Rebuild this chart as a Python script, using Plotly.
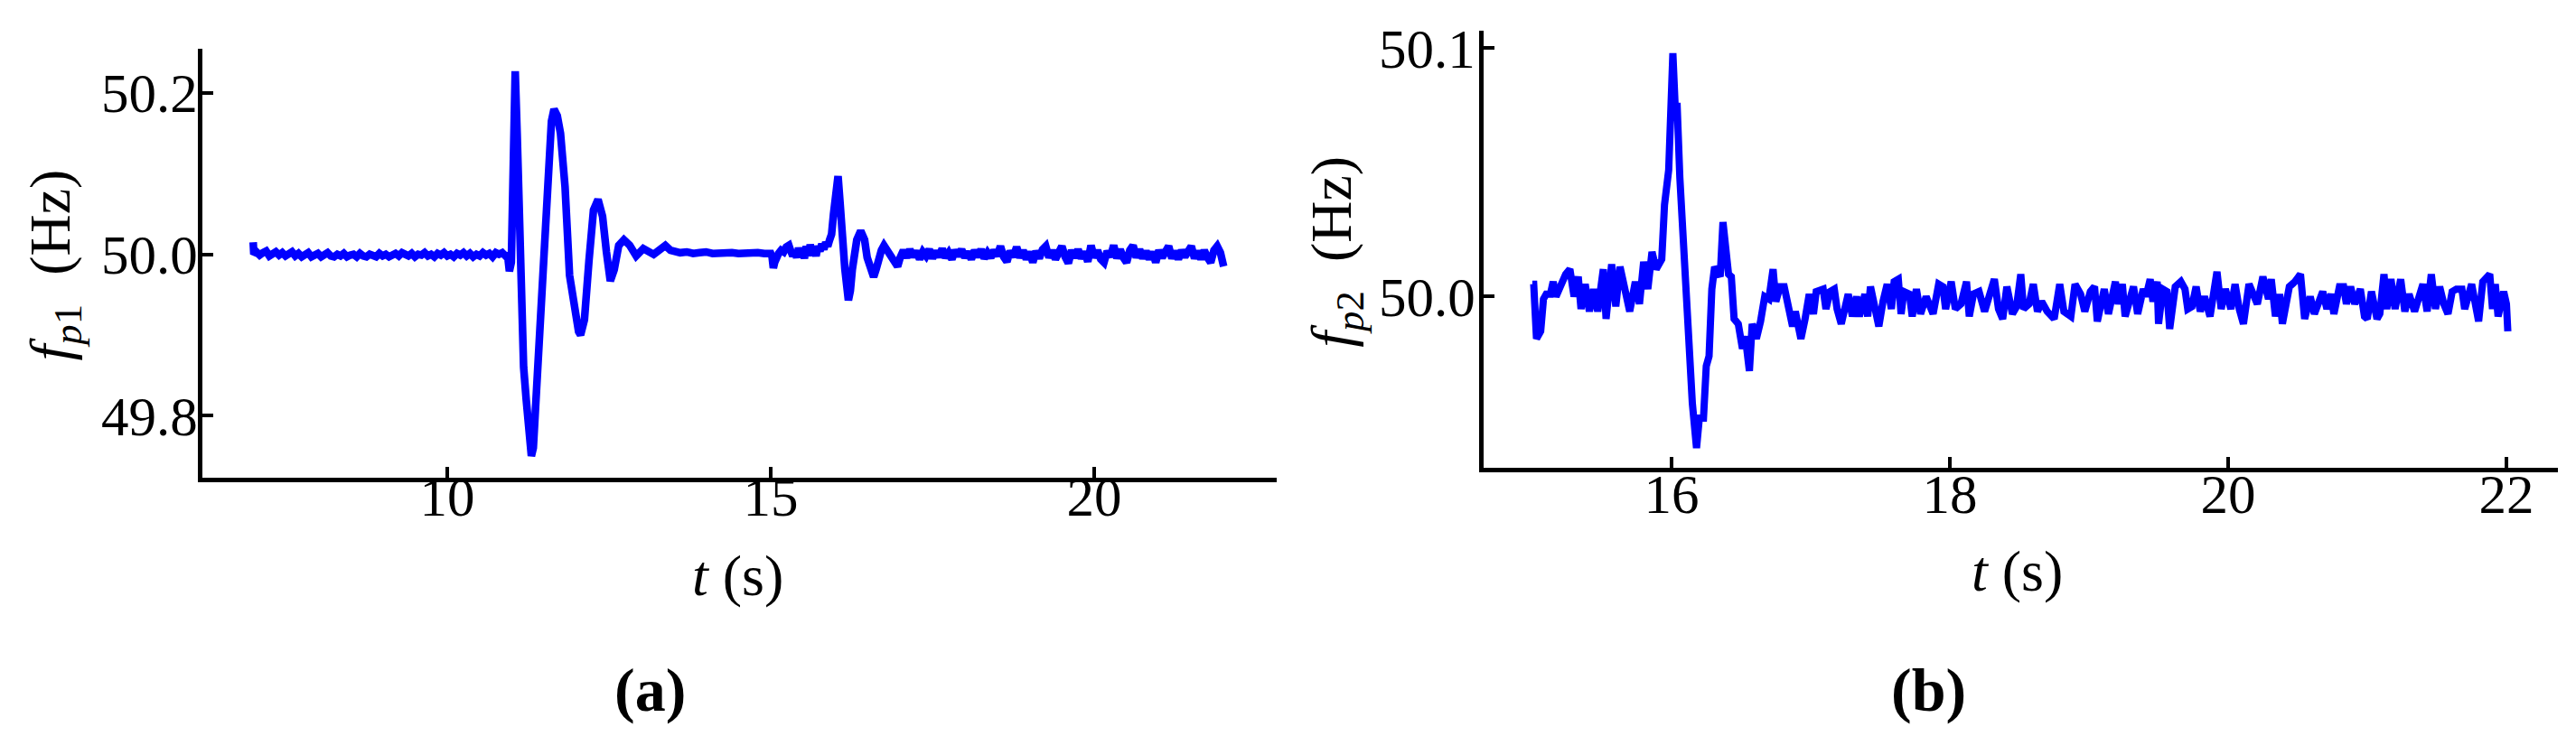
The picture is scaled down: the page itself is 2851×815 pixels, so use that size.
import plotly.graph_objects as go

# ---------------- data ----------------
# Left panel (a): f_p1 in Hz versus t in s
left_t_quiet = [7.00, 7.01, 7.05, 7.10, 7.15, 7.20, 7.25, 7.30, 7.35, 7.40, 7.45, 7.50,
                7.55, 7.60, 7.65, 7.70, 7.75, 7.80, 7.85, 7.90, 7.95, 8.00, 8.05, 8.10,
                8.15, 8.20, 8.25, 8.30, 8.35, 8.40, 8.45, 8.50, 8.55, 8.60, 8.65, 8.70,
                8.75, 8.80, 8.85, 8.90, 8.95, 9.00, 9.05, 9.10, 9.15, 9.20, 9.25, 9.30,
                9.35, 9.40, 9.45, 9.50, 9.55, 9.60, 9.65, 9.70, 9.75, 9.80, 9.85, 9.90,
                9.95, 10.00, 10.05, 10.10, 10.15, 10.20, 10.25, 10.30, 10.35, 10.40,
                10.45, 10.50, 10.55, 10.60, 10.65, 10.70, 10.75, 10.80, 10.85, 10.90]
left_f_quiet = [50.015, 50.000, 50.003, 49.999, 50.002, 50.004, 49.998, 50.001, 50.003, 49.999,
                50.002, 49.998, 50.000, 50.003, 49.998, 50.001, 49.997, 50.000, 50.002, 49.997,
                49.999, 50.001, 49.997, 49.999, 50.002, 49.998, 49.997, 50.000, 49.998, 50.001,
                49.997, 49.999, 50.000, 49.997, 50.001, 49.998, 49.997, 50.000, 49.999, 49.997,
                50.001, 49.998, 50.000, 49.997, 49.999, 50.001, 49.998, 50.002, 50.000, 49.998,
                50.001, 49.997, 50.000, 49.999, 50.002, 49.998, 50.000, 49.997, 50.001, 49.999,
                50.002, 49.998, 50.000, 49.997, 50.001, 49.999, 50.002, 49.998, 50.001, 49.997,
                50.000, 49.998, 50.002, 49.999, 50.001, 49.997, 50.002, 50.000, 50.002, 49.998]

left_t_event1 = [10.93, 10.96, 10.99, 11.02, 11.05, 11.08, 11.11, 11.14, 11.18, 11.22, 11.26,
                 11.30, 11.33, 11.40, 11.47, 11.54, 11.61, 11.65, 11.70, 11.75, 11.82, 11.89,
                 11.96, 12.03, 12.06, 12.12, 12.19, 12.26, 12.33, 12.40, 12.46, 12.52, 12.58,
                 12.65, 12.73, 12.82, 12.92, 13.03, 13.19, 13.37, 13.45, 13.52]
left_f_event1 = [50.001, 49.979, 49.990, 50.130, 50.227, 50.150, 50.040, 49.940, 49.860, 49.820,
                 49.770, 49.750, 49.760, 49.864, 49.974, 50.102, 50.165, 50.180, 50.172, 50.150,
                 50.084, 49.974, 49.930, 49.904, 49.900, 49.919, 49.992, 50.055, 50.068, 50.047,
                 50.003, 49.967, 49.981, 50.011, 50.018, 50.011, 49.998, 50.007, 50.000, 50.011,
                 50.005, 50.003]

left_t_flat = [13.60, 13.70, 13.80, 13.90, 14.00, 14.10, 14.20, 14.30, 14.40, 14.50, 14.60,
               14.70, 14.80, 14.90]
left_f_flat = [50.002, 50.003, 50.001, 50.002, 50.003, 50.001, 50.002, 50.001, 50.002, 50.001,
               50.002, 50.001, 50.002, 50.001]

left_t_event2 = [15.00, 15.02, 15.04, 15.06, 15.09, 15.12, 15.16, 15.20, 15.24, 15.28, 15.31,
                 15.34, 15.37, 15.40, 15.43, 15.46, 15.49, 15.52, 15.55, 15.58, 15.61, 15.64,
                 15.67, 15.70, 15.73, 15.76, 15.79, 15.82, 15.85, 15.88, 15.91, 15.94, 15.97,
                 16.00, 16.04, 16.07, 16.10, 16.145, 16.20, 16.23, 16.26, 16.30, 16.33, 16.39,
                 16.45, 16.49, 16.54, 16.59, 16.63, 16.66, 16.71, 16.75, 16.80, 16.84, 16.91,
                 16.96, 17.00]
left_f_event2 = [50.001, 49.997, 49.983, 49.990, 49.998, 50.001, 50.005, 50.003, 50.009, 50.011,
                 50.004, 49.998, 50.003, 49.996, 50.008, 49.997, 50.006, 49.995, 50.010, 49.998,
                 50.012, 50.001, 50.008, 49.998, 50.010, 50.004, 50.013, 50.006, 50.015, 50.010,
                 50.018, 50.025, 50.050, 50.080, 50.097, 50.065, 50.025, 49.982, 49.943, 49.955,
                 49.981, 50.005, 50.018, 50.029, 50.018, 49.996, 49.981, 49.972, 49.982, 49.992,
                 50.005, 50.011, 50.004, 50.000, 49.989, 49.985, 49.996]

left_t_tail = [17.05, 17.10, 17.15, 17.20, 17.25, 17.30, 17.35, 17.40, 17.45, 17.50, 17.55,
               17.60, 17.65, 17.70, 17.75, 17.80, 17.85, 17.90, 17.95, 18.00, 18.05, 18.10,
               18.15, 18.20, 18.25, 18.30, 18.35, 18.40, 18.45, 18.50, 18.55, 18.60, 18.65,
               18.70, 18.75, 18.80, 18.85, 18.90, 18.95, 19.00, 19.05, 19.10, 19.15, 19.20,
               19.25, 19.30, 19.35, 19.40, 19.45, 19.50, 19.55, 19.60, 19.65, 19.70, 19.75,
               19.80, 19.85, 19.90, 19.95, 20.00, 20.05, 20.10, 20.15, 20.20, 20.25, 20.30,
               20.35, 20.40, 20.45, 20.50, 20.55, 20.60, 20.65, 20.70, 20.75, 20.80, 20.85,
               20.90, 20.95, 21.00, 21.05, 21.10, 21.15, 21.20, 21.25, 21.30, 21.35, 21.40,
               21.45, 21.50, 21.55, 21.60, 21.65, 21.70, 21.75, 21.80, 21.85, 21.90, 21.95,
               22.00]
left_f_tail = [50.005, 49.996, 50.006, 49.997, 50.004, 49.994, 50.003, 49.998, 50.006, 49.995,
               50.004, 49.997, 50.007, 49.996, 50.002, 49.994, 50.005, 49.998, 50.006, 49.996,
               50.003, 49.994, 50.005, 49.997, 50.006, 49.995, 50.002, 49.996, 50.005, 49.998,
               50.010, 49.997, 49.991, 50.004, 49.997, 50.009, 49.996, 50.005, 49.994, 50.003,
               49.990, 50.004, 49.995, 50.006, 50.010, 49.996, 50.005, 49.994, 50.004, 50.010,
               49.997, 49.989, 50.005, 49.996, 50.006, 49.995, 50.003, 49.991, 50.011, 49.996,
               50.005, 49.994, 49.990, 50.004, 49.997, 50.011, 49.995, 50.006, 49.996, 49.990,
               50.005, 50.011, 49.996, 50.006, 49.995, 50.004, 49.994, 50.003, 49.990, 50.005,
               49.996, 50.006, 50.010, 49.995, 50.004, 49.994, 50.005, 49.997, 50.006, 50.010,
               49.995, 50.004, 49.994, 50.005, 49.996, 49.990, 50.005, 50.010, 50.002, 49.985]

# Right panel (b): f_p2 in Hz versus t in s
right_t = [15.00, 15.01, 15.03, 15.06, 15.08, 15.10, 15.13, 15.15, 15.17, 15.21, 15.24, 15.27,
           15.30, 15.33, 15.35, 15.38, 15.41, 15.44, 15.47, 15.51, 15.53, 15.57, 15.60, 15.63,
           15.66, 15.70, 15.74, 15.77, 15.80, 15.83, 15.86, 15.89, 15.93, 15.95, 15.98, 15.99,
           16.01, 16.03, 16.04, 16.06, 16.09, 16.11, 16.13, 16.15, 16.18, 16.20, 16.23, 16.25,
           16.27, 16.29, 16.31, 16.35, 16.37, 16.39, 16.41, 16.43, 16.45, 16.48, 16.51, 16.53,
           16.56, 16.58, 16.61, 16.64, 16.67, 16.70, 16.73, 16.75, 16.78, 16.81, 16.85, 16.87,
           16.89, 16.93, 16.96, 16.99, 17.02, 17.04, 17.09, 17.11, 17.14, 17.17, 17.19, 17.22,
           17.27, 17.30, 17.33, 17.35, 17.39, 17.41, 17.43, 17.46, 17.49, 17.52, 17.55, 17.58,
           17.60, 17.63, 17.65, 17.67, 17.71, 17.73, 17.76, 17.79, 17.83, 17.88, 17.92, 17.95,
           17.97, 18.01, 18.04, 18.08, 18.12, 18.14, 18.17, 18.21, 18.25, 18.32, 18.35, 18.38,
           18.41, 18.45, 18.48, 18.51, 18.53, 18.57, 18.60, 18.63, 18.66, 18.70, 18.75, 18.79,
           18.82, 18.87, 18.90, 18.94, 18.97, 19.01, 19.04, 19.06, 19.11, 19.14, 19.19, 19.21,
           19.24, 19.26, 19.30, 19.32, 19.35, 19.39, 19.41, 19.44, 19.46, 19.49, 19.50, 19.53,
           19.56, 19.58, 19.62, 19.66, 19.69, 19.71, 19.74, 19.77, 19.80, 19.83, 19.87, 19.90,
           19.92, 19.95, 19.98, 20.02, 20.05, 20.08, 20.11, 20.15, 20.18, 20.21, 20.25, 20.29,
           20.31, 20.34, 20.37, 20.39, 20.44, 20.48, 20.52, 20.55, 20.59, 20.62, 20.68, 20.71,
           20.74, 20.76, 20.80, 20.83, 20.85, 20.88, 20.91, 20.95, 20.98, 21.00, 21.03, 21.07,
           21.09, 21.12, 21.14, 21.17, 21.20, 21.24, 21.27, 21.30, 21.34, 21.37, 21.40, 21.43,
           21.46, 21.49, 21.52, 21.55, 21.58, 21.61, 21.64, 21.68, 21.70, 21.75, 21.78, 21.80,
           21.83, 21.88, 21.90, 21.92, 21.94, 21.98, 22.00, 22.01]
right_f = [50.005, 50.005, 49.983, 49.986, 49.999, 50.001, 50.001, 50.006, 50.000, 50.006,
           50.009, 50.011, 50.000, 50.008, 49.995, 50.005, 49.994, 50.003, 49.994, 50.011,
           49.991, 50.013, 49.996, 50.012, 50.003, 49.994, 50.006, 49.997, 50.014, 50.003,
           50.018, 50.011, 50.015, 50.037, 50.051, 50.068, 50.098, 50.072, 50.078, 50.048,
           50.018, 49.994, 49.976, 49.957, 49.939, 49.951, 49.951, 49.972, 49.976, 50.003,
           50.012, 50.008, 50.030, 50.019, 50.009, 50.008, 49.991, 49.989, 49.979, 49.984,
           49.970, 49.989, 49.983, 49.990, 50.000, 49.999, 50.011, 49.998, 50.004, 50.004,
           49.995, 49.988, 49.994, 49.983, 49.991, 50.001, 49.993, 50.002, 50.003, 49.995,
           50.002, 50.003, 49.995, 49.989, 50.001, 49.992, 50.000, 49.992, 50.001, 49.992,
           50.004, 49.995, 49.988, 49.998, 50.005, 49.995, 50.006, 50.007, 49.993, 50.002,
           50.001, 49.992, 50.003, 49.993, 50.000, 49.993, 50.005, 50.004, 49.995, 50.006,
           49.995, 49.997, 50.006, 49.992, 50.001, 50.002, 49.994, 50.007, 49.995, 49.991,
           50.004, 49.993, 49.996, 50.009, 49.995, 49.997, 50.005, 49.994, 49.998, 49.994,
           49.991, 50.005, 49.994, 49.992, 50.005, 50.001, 49.994, 50.002, 50.004, 49.990,
           50.003, 49.993, 50.006, 49.997, 50.005, 49.992, 49.999, 50.004, 49.993, 50.003,
           50.000, 50.007, 49.998, 50.006, 49.989, 50.003, 50.002, 49.987, 50.004, 50.006,
           50.003, 49.995, 49.996, 50.004, 49.994, 50.000, 49.992, 50.003, 50.010, 49.995,
           50.003, 49.995, 50.005, 49.995, 49.989, 50.005, 50.001, 49.997, 50.008, 49.999,
           50.007, 49.992, 50.001, 49.989, 50.004, 50.006, 50.009, 49.991, 50.000, 49.993,
           50.002, 49.995, 50.001, 49.993, 50.004, 50.004, 49.997, 50.004, 49.997, 50.003,
           49.992, 49.991, 50.002, 49.991, 49.993, 50.009, 49.995, 50.007, 49.995, 50.007,
           49.994, 50.001, 49.994, 50.001, 50.005, 49.994, 50.009, 49.995, 50.004, 49.997,
           49.993, 50.002, 50.003, 50.003, 49.995, 50.005, 49.995, 49.990, 50.006, 50.009,
           49.995, 50.005, 49.992, 50.002, 49.997, 49.986]

left_xticks = [10, 15, 20]
left_yticks = [49.8, 50.0, 50.2]
right_xticks = [16, 18, 20, 22]
right_yticks = [50.0, 50.1]

left_t = left_t_quiet + left_t_event1 + left_t_flat + left_t_event2 + left_t_tail
left_f = left_f_quiet + left_f_event1 + left_f_flat + left_f_event2 + left_f_tail

# ---------------- figure ----------------
W, H = 2851, 815
FONT = "Liberation Serif"
BLUE = "#0000ff"


def fx(p):
    return p / W


def fy(p):
    return 1 - p / H


fig = go.Figure()
fig.add_trace(go.Scatter(x=left_t, y=left_f, mode="lines",
                         line=dict(color=BLUE, width=8.5),
                         xaxis="x", yaxis="y", showlegend=False, hoverinfo="skip"))
fig.add_trace(go.Scatter(x=right_t, y=right_f, mode="lines",
                         line=dict(color=BLUE, width=8),
                         xaxis="x2", yaxis="y2", showlegend=False, hoverinfo="skip"))

axis_common = dict(showgrid=False, zeroline=False, showline=True, linecolor="black",
                   linewidth=5, ticks="inside", ticklen=12, tickwidth=3.5,
                   tickcolor="black",
                   tickfont=dict(family=FONT, size=61, color="black"))

fig.update_layout(
    width=W, height=H,
    margin=dict(l=0, r=0, t=0, b=0),
    paper_bgcolor="white", plot_bgcolor="white",
    xaxis=dict(domain=[fx(224), fx(1413)], range=[6.215, 22.82], tickvals=left_xticks,
               anchor="y", ticklabelstandoff=-36, **axis_common),
    yaxis=dict(domain=[fy(524), fy(42)], range=[49.7234, 50.2545], tickvals=left_yticks,
               tickformat=".1f", anchor="x", ticklabelstandoff=-12, **axis_common),
    xaxis2=dict(domain=[fx(1642), fx(2831)], range=[14.65, 22.37], tickvals=right_xticks,
                anchor="y2", ticklabelstandoff=-28, **axis_common),
    yaxis2=dict(domain=[fy(513), fy(21)], range=[49.9311, 50.1072], tickvals=right_yticks,
                tickformat=".1f", anchor="x2", ticklabelstandoff=-8, **axis_common),
)

title_font = dict(family=FONT, size=64, color="black")
annots = [
    dict(text="<i>f</i><sub><i>p</i>1</sub>&nbsp;&nbsp;(Hz)", x=fx(60), y=fy(285), textangle=-90),
    dict(text="<i>f</i><sub><i>p</i>2</sub>&nbsp;&nbsp;(Hz)", x=fx(1478), y=fy(270), textangle=-90),
    dict(text="<i>t</i>&nbsp;(s)", x=fx(816), y=fy(635), textangle=0),
    dict(text="<i>t</i>&nbsp;(s)", x=fx(2232), y=fy(630), textangle=0),
]
for a in annots:
    fig.add_annotation(xref="paper", yref="paper", xanchor="center", yanchor="middle",
                       showarrow=False, font=title_font, **a)

cap_font = dict(family=FONT, size=68, color="black")
for txt, cx in [("<b>(a)</b>", 719), ("<b>(b)</b>", 2134)]:
    fig.add_annotation(text=txt, x=fx(cx), y=fy(763), xref="paper", yref="paper",
                       xanchor="center", yanchor="middle", showarrow=False, font=cap_font)

fig.write_html("out.html", config={"displayModeBar": False},
               post_script="document.body.style.margin='0';")
